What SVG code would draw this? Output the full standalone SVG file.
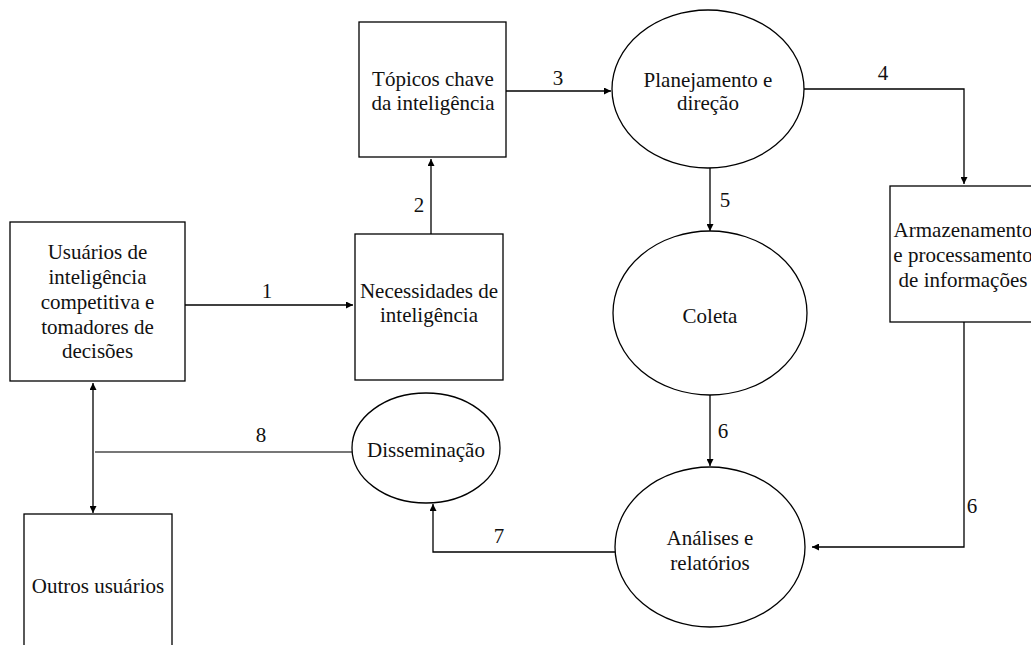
<svg xmlns="http://www.w3.org/2000/svg" width="1031" height="645" viewBox="0 0 1031 645">
<style>
.n{fill:#fff;stroke:#000;stroke-width:1.3}
.t{font-family:"Liberation Serif","Tinos","Times New Roman","DejaVu Serif",serif;font-size:21px;fill:#111;text-anchor:middle}
.c{fill:none;stroke:#000;stroke-width:1.3}
.g{fill:none;stroke:#777;stroke-width:1.8}
</style>
<defs>
<marker id="ah" viewBox="0 0 10 10" refX="10" refY="5" markerWidth="7" markerHeight="7" markerUnits="userSpaceOnUse" orient="auto">
<path d="M0,0 L10,5 L0,10 z" fill="#000"/>
</marker>
<marker id="as" viewBox="0 0 10 10" refX="0" refY="5" markerWidth="7" markerHeight="7" markerUnits="userSpaceOnUse" orient="auto">
<path d="M10,0 L0,5 L10,10 z" fill="#000"/>
</marker>
</defs>
<rect width="1031" height="645" fill="#fff"/>
<g id="connectors">
<path class="c" d="M185,305 H353" marker-end="url(#ah)"/>
<path class="c" d="M431,234 V159" marker-end="url(#ah)"/>
<path class="c" d="M506,91 H611" marker-end="url(#ah)"/>
<path class="c" d="M804,89 H964 V184" marker-end="url(#ah)"/>
<path class="c" d="M710,168 V231" marker-end="url(#ah)"/>
<path class="c" d="M710,395 V466" marker-end="url(#ah)"/>
<path class="c" d="M964,322 V547 H812" marker-end="url(#ah)"/>
<path class="c" d="M615,552 H433 V504" marker-end="url(#ah)"/>
<path class="g" d="M352,452 H95"/>
<path class="c" d="M93,383 V513" marker-start="url(#as)" marker-end="url(#ah)"/>
<text class="t" x="267" y="298" font-family="Liberation Serif, serif">1</text>
<text class="t" x="419" y="212">2</text>
<text class="t" x="558" y="85">3</text>
<text class="t" x="883" y="80">4</text>
<text class="t" x="725" y="207">5</text>
<text class="t" x="723" y="438">6</text>
<text class="t" x="972" y="513">6</text>
<text class="t" x="499" y="543">7</text>
<text class="t" x="261" y="442">8</text>
</g>
<g id="usuarios">
<rect class="n" x="10" y="222" width="175" height="159"/>
<text class="t" x="97.5" y="259">Usuários de</text>
<text class="t" x="97.5" y="284">inteligência</text>
<text class="t" x="97.5" y="309">competitiva e</text>
<text class="t" x="97.5" y="334">tomadores de</text>
<text class="t" x="97.5" y="358">decisões</text>
</g>
<g id="necessidades">
<rect class="n" x="355" y="234" width="148" height="146"/>
<text class="t" x="429" y="298">Necessidades de</text>
<text class="t" x="429" y="322">inteligência</text>
</g>
<g id="topicos">
<rect class="n" x="359" y="22" width="147" height="135"/>
<text class="t" x="433" y="86">Tópicos chave</text>
<text class="t" x="433" y="110">da inteligência</text>
</g>
<g id="planejamento">
<ellipse class="n" cx="708" cy="89" rx="96" ry="79"/>
<text class="t" x="708" y="87">Planejamento e</text>
<text class="t" x="708" y="110">direção</text>
</g>
<g id="armazenamento">
<rect class="n" x="890" y="186" width="150" height="136"/>
<text class="t" x="963" y="237">Armazenamento</text>
<text class="t" x="963" y="262">e processamento</text>
<text class="t" x="963" y="287">de informações</text>
</g>
<g id="coleta">
<ellipse class="n" cx="710" cy="313" rx="97" ry="82"/>
<text class="t" x="710" y="323">Coleta</text>
</g>
<g id="analises">
<ellipse class="n" cx="710" cy="547" rx="95" ry="80"/>
<text class="t" x="710" y="545">Análises e</text>
<text class="t" x="710" y="570">relatórios</text>
</g>
<g id="disseminacao">
<ellipse class="n" cx="426" cy="448" rx="74" ry="55"/>
<text class="t" x="426" y="457">Disseminação</text>
</g>
<g id="outros">
<rect class="n" x="24" y="514" width="148" height="140"/>
<text class="t" x="98" y="593">Outros usuários</text>
</g>
</svg>
